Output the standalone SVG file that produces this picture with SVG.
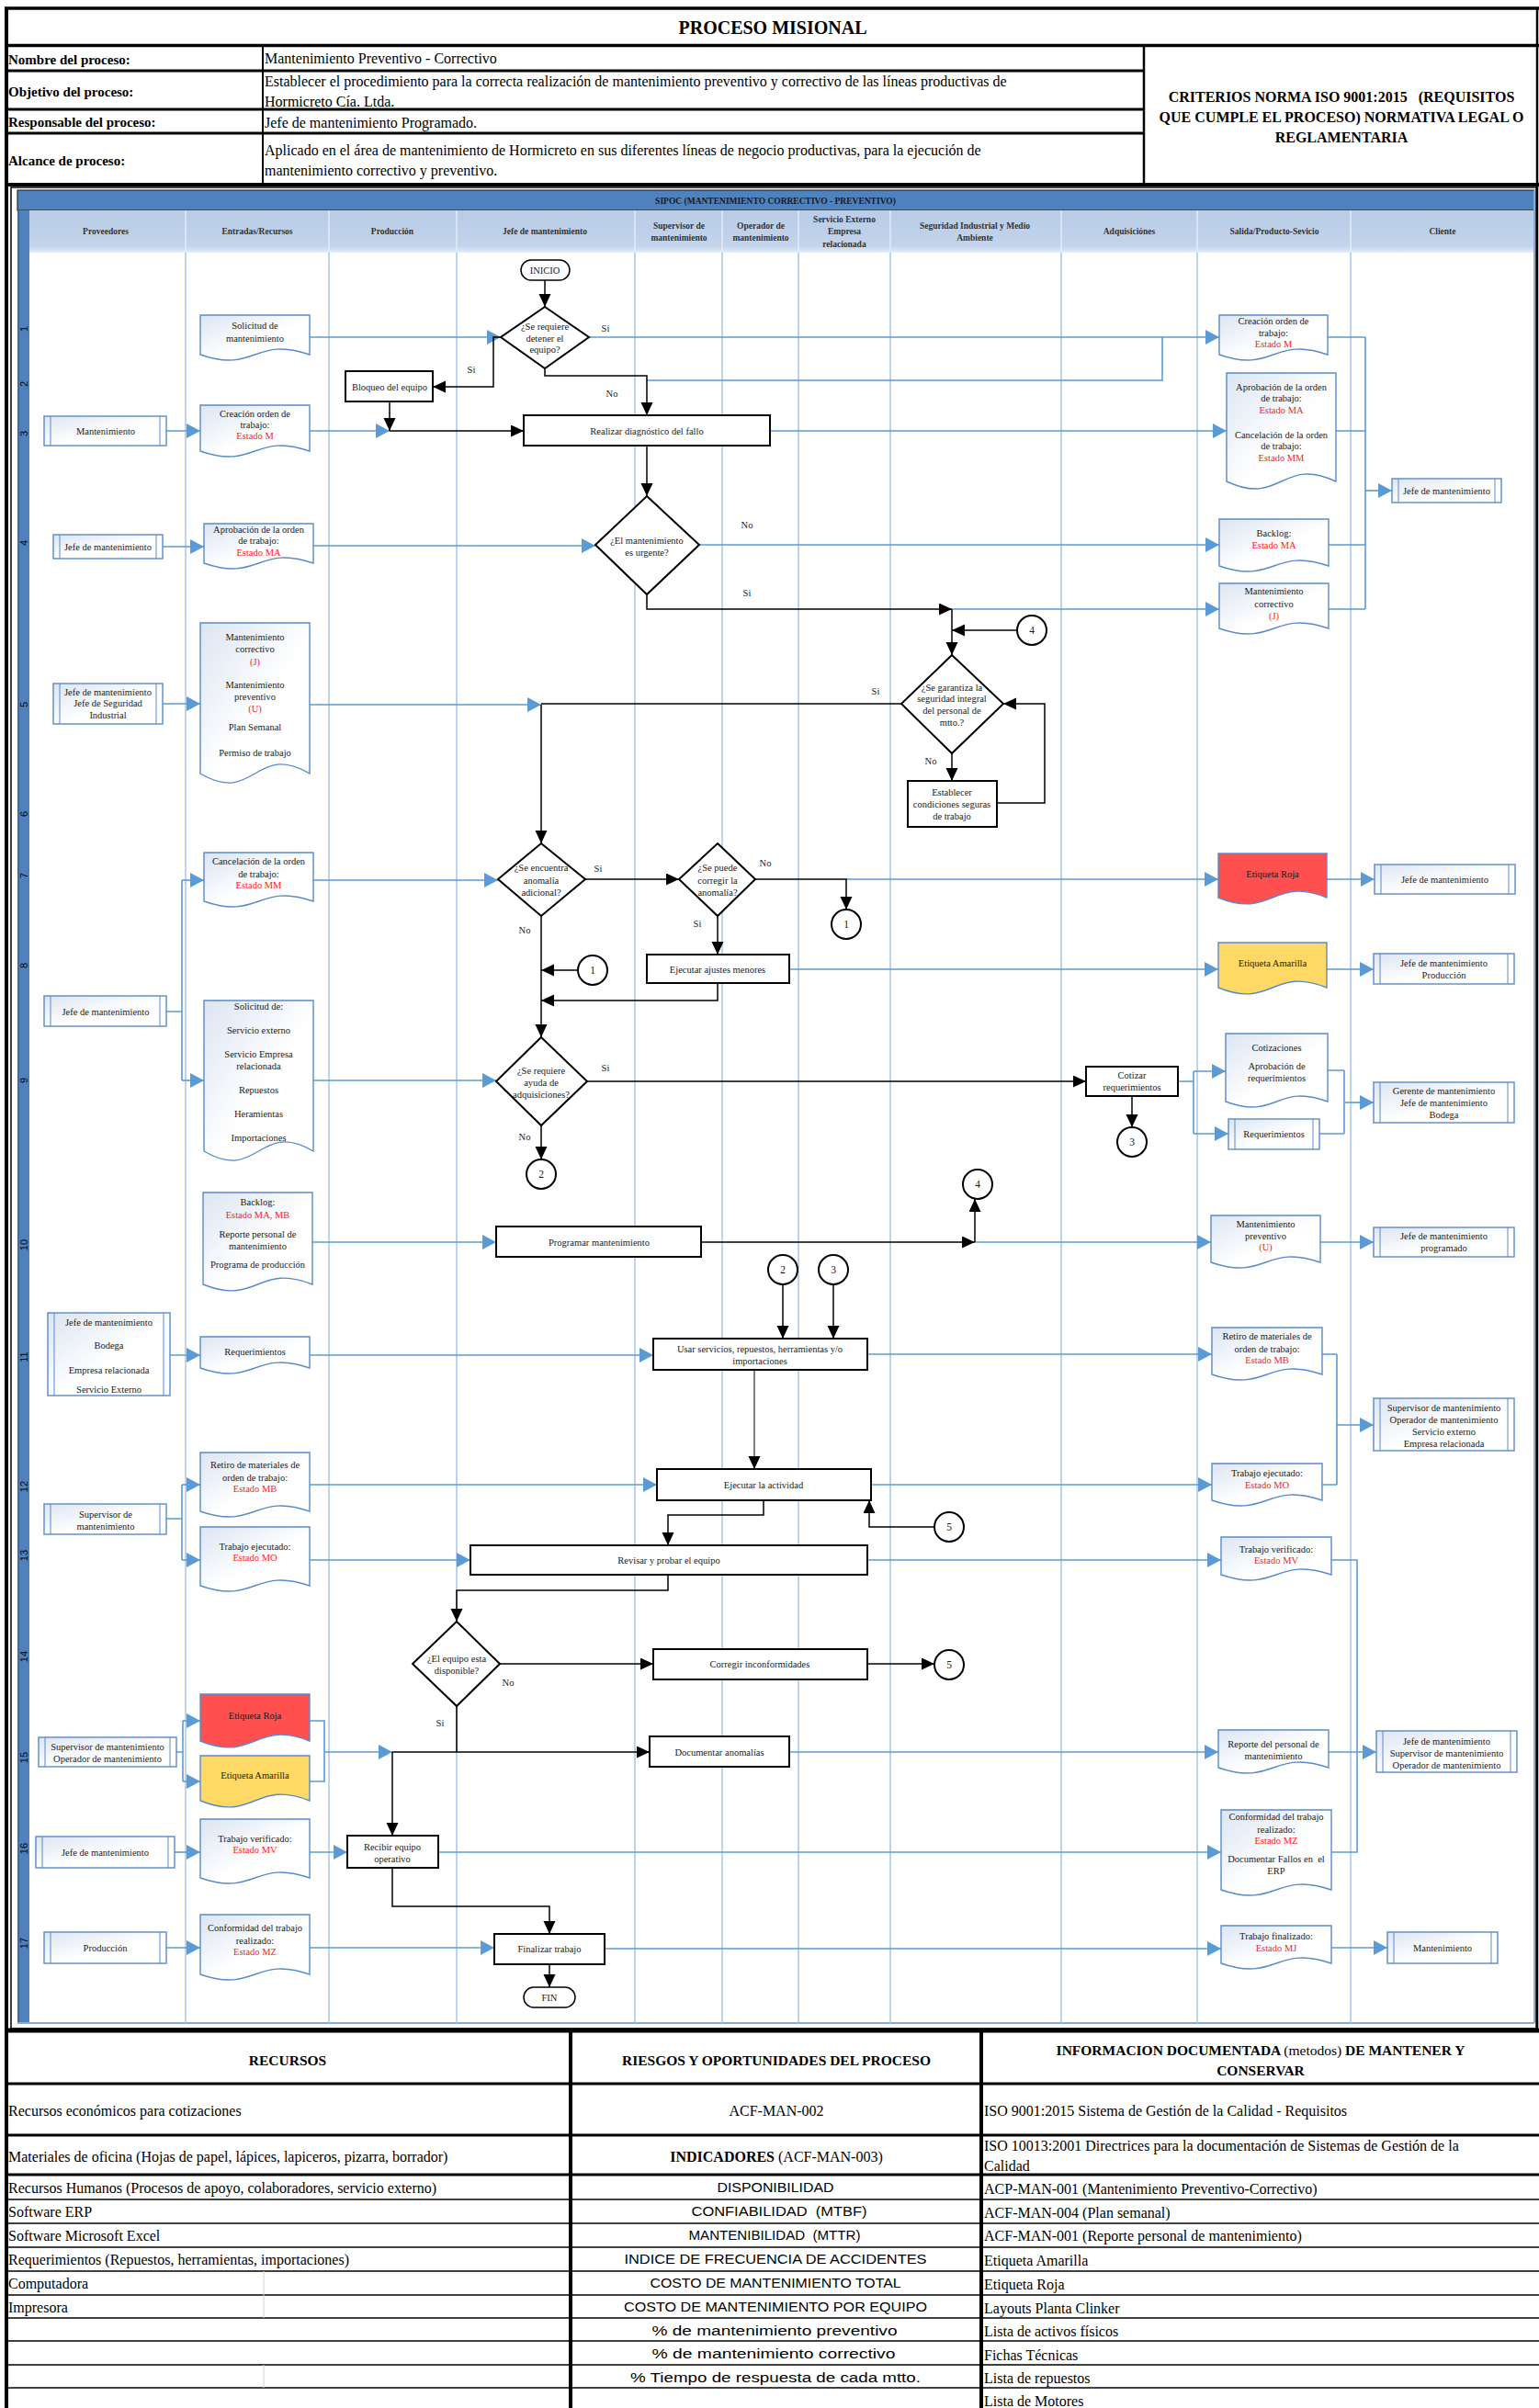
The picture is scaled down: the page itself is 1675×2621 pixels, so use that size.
<svg xmlns="http://www.w3.org/2000/svg" width="1675" height="2621" viewBox="0 0 1675 2621">
<defs>
<linearGradient id="g" x1="0" y1="0" x2="1" y2="1"><stop offset="0" stop-color="#DCE5F2"/><stop offset="0.55" stop-color="#FFFFFF"/></linearGradient>
<linearGradient id="hg" x1="0" y1="0" x2="0" y2="1"><stop offset="0" stop-color="#B8CCE6"/><stop offset="0.85" stop-color="#C3D4EC"/><stop offset="1" stop-color="#E6EDF7"/></linearGradient>
<marker id="ab" markerUnits="userSpaceOnUse" markerWidth="16" markerHeight="16" refX="15" refY="8" orient="auto"><path d="M0,0 L15,8 L0,16 z" fill="#5B9BD5"/></marker>
<marker id="ak" markerUnits="userSpaceOnUse" markerWidth="14" markerHeight="14" refX="14" refY="6.5" orient="auto"><path d="M0,0 L14,6.5 L0,13 z" fill="#000"/></marker>
<style>
.serif{font-family:"Liberation Serif","Times New Roman",serif}
.hl{font-family:"Liberation Serif",serif;font-size:15px;font-weight:bold;fill:#000}
.hv{font-family:"Liberation Serif",serif;font-size:16px;fill:#000}
.hb{font-family:"Liberation Serif",serif;font-size:16px;font-weight:bold;fill:#000;text-anchor:middle}
.t{font-family:"Liberation Serif",serif;font-size:10.5px;fill:#1a1a1a;text-anchor:middle;dominant-baseline:central}
.ch{font-family:"Liberation Serif",serif;font-size:9.5px;font-weight:bold;fill:#333;text-anchor:middle;dominant-baseline:central}
.rn{font-family:"Liberation Sans",Arial,sans-serif;font-size:11px;fill:#0a0a0a;text-anchor:middle;dominant-baseline:central}
.r{fill:#FF1A1A}
.lane{stroke:#A9C5EA;stroke-width:1.5}
.laneh{stroke:#E3EBF6;stroke-width:1.5}
.doc{fill:url(#g);stroke:#5A8ACB;stroke-width:1.4}
.pp{fill:url(#g);stroke:#5A8ACB;stroke-width:1.4}
.ppl{stroke:#5A8ACB;stroke-width:1}
.box{fill:#fff;stroke:#000;stroke-width:2}
.cir{fill:#fff;stroke:#000;stroke-width:2}
.bl{fill:none;stroke:#5B9BD5;stroke-width:1.6}
.ba{fill:none;stroke:#5B9BD5;stroke-width:1.6;marker-end:url(#ab)}
.k{fill:none;stroke:#000;stroke-width:1.5}
.ka{fill:none;stroke:#000;stroke-width:1.5;marker-end:url(#ak)}
.tb{font-family:"Liberation Serif",serif;font-size:16px;fill:#000;dominant-baseline:central}
.tbh{font-family:"Liberation Serif",serif;font-size:15.5px;font-weight:bold;fill:#000;text-anchor:middle;dominant-baseline:central}
.ts{font-family:"Liberation Sans",Arial,sans-serif;font-size:14px;fill:#000;text-anchor:middle;dominant-baseline:central}
.thick{stroke:#000;stroke-width:3}
.thin{stroke:#000;stroke-width:1.5}
</style>
</defs>
<rect x="0" y="0" width="1675" height="2621" fill="#fff"/>

<!-- HEADER TABLE -->
<g id="header-table">
<line x1="5" y1="9" x2="1675" y2="9" stroke="#000" stroke-width="3.5"/>
<line x1="7" y1="9" x2="7" y2="2621" stroke="#000" stroke-width="4"/>
<line x1="1673" y1="9" x2="1673" y2="2208" stroke="#000" stroke-width="2.5"/>
<line x1="7" y1="49.5" x2="1675" y2="49.5" stroke="#000" stroke-width="3.5"/>
<line x1="7" y1="77" x2="1245" y2="77" class="thick"/>
<line x1="7" y1="119" x2="1245" y2="119" class="thick"/>
<line x1="7" y1="145" x2="1245" y2="145" class="thick"/>
<line x1="7" y1="201" x2="1675" y2="201" stroke="#000" stroke-width="4"/>
<line x1="286" y1="49" x2="286" y2="201" stroke="#000" stroke-width="2"/>
<line x1="1245" y1="49" x2="1245" y2="201" stroke="#000" stroke-width="2.5"/>
<text x="841" y="30" class="serif" font-size="20" font-weight="bold" text-anchor="middle" dominant-baseline="central">PROCESO MISIONAL</text>
<text x="9" y="65" class="hl" dominant-baseline="central">Nombre del proceso:</text>
<text x="9" y="100" class="hl" dominant-baseline="central">Objetivo del proceso:</text>
<text x="9" y="133" class="hl" dominant-baseline="central">Responsable del proceso:</text>
<text x="9" y="175" class="hl" dominant-baseline="central">Alcance de proceso:</text>
<text x="288" y="63" class="hv" dominant-baseline="central">Mantenimiento Preventivo - Correctivo</text>
<text class="hv" dominant-baseline="central"><tspan x="288" y="88">Establecer el procedimiento para la correcta realización de mantenimiento preventivo y correctivo de las líneas productivas de</tspan><tspan x="288" y="110">Hormicreto Cía. Ltda.</tspan></text>
<text x="288" y="133" class="hv" dominant-baseline="central">Jefe de mantenimiento Programado.</text>
<text class="hv" dominant-baseline="central"><tspan x="288" y="163">Aplicado en el área de mantenimiento de Hormicreto en sus diferentes líneas de negocio productivas, para la ejecución de</tspan><tspan x="288" y="185">mantenimiento correctivo y preventivo.</tspan></text>
<text class="hb" dominant-baseline="central" style="white-space:pre"><tspan x="1460" y="105">CRITERIOS NORMA ISO 9001:2015   (REQUISITOS</tspan><tspan x="1460" y="127">QUE CUMPLE EL PROCESO) NORMATIVA LEGAL O</tspan><tspan x="1460" y="149">REGLAMENTARIA</tspan></text>
</g>

<!-- SIPOC FRAME -->
<g id="sipoc-frame">
<rect x="12" y="204" width="1660" height="2004" fill="#fff" stroke="#000" stroke-width="1.5"/>
<rect x="19" y="207" width="1651" height="22" fill="#4F81BD" stroke="#2B2B2B" stroke-width="1.2"/>
<text x="844" y="218.5" class="serif" font-size="9.5" font-weight="bold" fill="#1a1a1a" text-anchor="middle" dominant-baseline="central">SIPOC (MANTENIMIENTO CORRECTIVO - PREVENTIVO)</text>
<rect x="32" y="229" width="1638" height="46" fill="url(#hg)"/>
<rect x="19" y="229" width="13" height="1973" fill="#4F81BD"/>
<line x1="20" y1="229" x2="20" y2="2202" stroke="#3C6CA6" stroke-width="2"/>
<line x1="19" y1="2202" x2="1670" y2="2202" stroke="#8FA9C8" stroke-width="2"/>
<line x1="1670" y1="207" x2="1670" y2="2202" stroke="#8FA9C8" stroke-width="2"/>
<g id="lanes">
<line x1="202" y1="229" x2="202" y2="275" class="laneh"/>
<line x1="358" y1="229" x2="358" y2="275" class="laneh"/>
<line x1="497" y1="229" x2="497" y2="275" class="laneh"/>
<line x1="691" y1="229" x2="691" y2="275" class="laneh"/>
<line x1="786" y1="229" x2="786" y2="275" class="laneh"/>
<line x1="869" y1="229" x2="869" y2="275" class="laneh"/>
<line x1="969" y1="229" x2="969" y2="275" class="laneh"/>
<line x1="1155" y1="229" x2="1155" y2="275" class="laneh"/>
<line x1="1303" y1="229" x2="1303" y2="275" class="laneh"/>
<line x1="1470" y1="229" x2="1470" y2="275" class="laneh"/>
<line x1="202" y1="275" x2="202" y2="2202" class="lane"/>
<line x1="358" y1="275" x2="358" y2="2202" class="lane"/>
<line x1="497" y1="275" x2="497" y2="2202" class="lane"/>
<line x1="691" y1="275" x2="691" y2="2202" class="lane"/>
<line x1="786" y1="275" x2="786" y2="2202" class="lane"/>
<line x1="869" y1="275" x2="869" y2="2202" class="lane"/>
<line x1="969" y1="275" x2="969" y2="2202" class="lane"/>
<line x1="1155" y1="275" x2="1155" y2="2202" class="lane"/>
<line x1="1303" y1="275" x2="1303" y2="2202" class="lane"/>
<line x1="1470" y1="275" x2="1470" y2="2202" class="lane"/>
</g>
<g id="column-headers">
<text x="115" y="252" class="ch">Proveedores</text>
<text x="280" y="252" class="ch">Entradas/Recursos</text>
<text x="427" y="252" class="ch">Producción</text>
<text x="593" y="252" class="ch">Jefe de mantenimiento</text>
<text class="ch"><tspan x="739" y="246">Supervisor de</tspan><tspan x="739" y="259">mantenimiento</tspan></text>
<text class="ch"><tspan x="828" y="246">Operador de</tspan><tspan x="828" y="259">mantenimiento</tspan></text>
<text class="ch"><tspan x="919" y="239">Servicio Externo</tspan><tspan x="919" y="252">Empresa</tspan><tspan x="919" y="266">relacionada</tspan></text>
<text class="ch"><tspan x="1061" y="246">Seguridad Industrial y Medio</tspan><tspan x="1061" y="259">Ambiente</tspan></text>
<text x="1229" y="252" class="ch">Adquisiciónes</text>
<text x="1387" y="252" class="ch">Salida/Producto-Sevicio</text>
<text x="1570" y="252" class="ch">Cliente</text>
</g>
<g id="row-numbers">
<text class="rn" transform="rotate(-90 26 358)" x="26" y="358">1</text>
<text class="rn" transform="rotate(-90 26 418)" x="26" y="418">2</text>
<text class="rn" transform="rotate(-90 26 472)" x="26" y="472">3</text>
<text class="rn" transform="rotate(-90 26 591)" x="26" y="591">4</text>
<text class="rn" transform="rotate(-90 26 767)" x="26" y="767">5</text>
<text class="rn" transform="rotate(-90 26 886)" x="26" y="886">6</text>
<text class="rn" transform="rotate(-90 26 953)" x="26" y="953">7</text>
<text class="rn" transform="rotate(-90 26 1051)" x="26" y="1051">8</text>
<text class="rn" transform="rotate(-90 26 1176)" x="26" y="1176">9</text>
<text class="rn" transform="rotate(-90 26 1355)" x="26" y="1355">10</text>
<text class="rn" transform="rotate(-90 26 1477)" x="26" y="1477">11</text>
<text class="rn" transform="rotate(-90 26 1618)" x="26" y="1618">12</text>
<text class="rn" transform="rotate(-90 26 1693)" x="26" y="1693">13</text>
<text class="rn" transform="rotate(-90 26 1803)" x="26" y="1803">14</text>
<text class="rn" transform="rotate(-90 26 1913)" x="26" y="1913">15</text>
<text class="rn" transform="rotate(-90 26 2012)" x="26" y="2012">16</text>
<text class="rn" transform="rotate(-90 26 2115)" x="26" y="2115">17</text>
</g>
</g>

<!-- CONNECTORS -->
<g id="connectors">
<path class="ba" d="M337,367 H545"/>
<path class="ba" d="M641,367 H1327"/>
<path class="bl" d="M704,414 H1265 V367"/>
<path class="ba" d="M181,469 H218"/>
<path class="ba" d="M337,469 H424"/>
<path class="ba" d="M838,469 H1335"/>
<path class="ba" d="M177,595 H222"/>
<path class="ba" d="M341,594 H648"/>
<path class="ba" d="M761,593 H1327"/>
<path class="ba" d="M1036,663 H1327"/>
<path class="bl" d="M1445,367 H1486 M1454,469 H1486 M1446,593 H1486 M1446,663 H1486 M1486,367 V663"/>
<path class="ba" d="M1486,534 H1515"/>
<path class="ba" d="M177,766 H218"/>
<path class="ba" d="M337,767 H589"/>
<path class="bl" d="M181,1101 H198 M198,958 V1176"/>
<path class="ba" d="M198,958 H222"/>
<path class="ba" d="M198,1176 H222"/>
<path class="ba" d="M341,958 H542"/>
<path class="ba" d="M341,1176 H540"/>
<path class="ba" d="M921,957 H1326"/>
<path class="ba" d="M1444,957 H1496"/>
<path class="ba" d="M859,1055 H1326"/>
<path class="ba" d="M1444,1055 H1495"/>
<path class="bl" d="M1282,1177 H1299 M1299,1166 V1234"/>
<path class="ba" d="M1299,1166 H1334"/>
<path class="ba" d="M1299,1234 H1337"/>
<path class="bl" d="M1445,1165 H1463 M1436,1234 H1463 M1463,1165 V1234"/>
<path class="ba" d="M1463,1200 H1495"/>
<path class="ba" d="M340,1352 H540"/>
<path class="ba" d="M1061,1352 H1318"/>
<path class="ba" d="M1437,1352 H1495"/>
<path class="ba" d="M185,1475 H218"/>
<path class="ba" d="M337,1475 H711"/>
<path class="ba" d="M944,1474 H1319"/>
<path class="bl" d="M181,1653 H198 M198,1616 V1698"/>
<path class="ba" d="M198,1616 H218"/>
<path class="ba" d="M198,1698 H218"/>
<path class="ba" d="M337,1616 H715"/>
<path class="ba" d="M337,1698 H512"/>
<path class="ba" d="M948,1616 H1319"/>
<path class="bl" d="M1439,1474 H1455 M1439,1616 H1455 M1455,1474 V1616"/>
<path class="ba" d="M1455,1551 H1495"/>
<path class="ba" d="M944,1698 H1329"/>
<path class="bl" d="M1449,1698 H1477 V2016 H1449"/>
<path class="bl" d="M192,1907 H199 M199,1873 V1939"/>
<path class="ba" d="M199,1873 H218"/>
<path class="ba" d="M199,1939 H218"/>
<path class="bl" d="M337,1873 H353 V1939 H337"/>
<path class="ba" d="M353,1907 H427"/>
<path class="ba" d="M859,1907 H1326"/>
<path class="ba" d="M1446,1907 H1498"/>
<path class="ba" d="M190,2016 H218"/>
<path class="ba" d="M337,2016 H378"/>
<path class="ba" d="M477,2016 H1329"/>
<path class="ba" d="M181,2120 H218"/>
<path class="ba" d="M337,2120 H538"/>
<path class="ba" d="M658,2121 H1329"/>
<path class="ba" d="M1449,2120 H1510"/>
<path class="ka" d="M593,305 V334"/>
<path class="ka" d="M545,367 H537 V421 H471"/>
<path class="ka" d="M424,437 V469"/>
<path class="ka" d="M424,469 H570"/>
<path class="ka" d="M593,401 V409 H704 V452"/>
<path class="ka" d="M704,485 V540"/>
<path class="ka" d="M704,647 V663 H1036"/>
<path class="ka" d="M1036,663 V713"/>
<path class="ka" d="M1107,686 H1036"/>
<path class="ka" d="M1036,820 V850"/>
<path class="ka" d="M1085,874 H1137 V766 H1092"/>
<path class="k" d="M981,766 H589"/>
<path class="ka" d="M589,767 V918"/>
<path class="ka" d="M637,957 H739"/>
<path class="ka" d="M822,957 H921 V990"/>
<path class="ka" d="M781,997 V1039"/>
<path class="ka" d="M629,1056 H589"/>
<path class="ka" d="M781,1070 V1089 H589"/>
<path class="ka" d="M589,997 V1129"/>
<path class="ka" d="M639,1177 H1182"/>
<path class="ka" d="M589,1225 V1262"/>
<path class="ka" d="M1232,1193 V1227"/>
<path class="ka" d="M763,1352 H1061"/>
<path class="ka" d="M1061,1352 V1305"/>
<path class="ka" d="M852,1398 V1457"/>
<path class="ka" d="M907,1398 V1457"/>
<path class="ka" d="M821,1491 V1599" style="stroke-width:1"/>
<path class="ka" d="M831,1633 V1649 H727 V1682"/>
<path class="ka" d="M1017,1662 H946 V1633"/>
<path class="ka" d="M727,1714 V1731 H497 V1765"/>
<path class="ka" d="M544,1811 H711"/>
<path class="ka" d="M944,1811 H1017"/>
<path class="k" d="M497,1857 V1907"/>
<path class="ka" d="M427,1907 H707"/>
<path class="ka" d="M427,1907 V1998"/>
<path class="ka" d="M427,2033 V2075 H598 V2105"/>
<path class="ka" d="M598,2138 V2163"/>
</g>

<!-- BRANCH LABELS -->
<g id="labels" class="serif" font-size="10.5" fill="#1a1a1a" text-anchor="middle" dominant-baseline="central">
<text x="659" y="357">Si</text>
<text x="513" y="402">Si</text>
<text x="666" y="428">No</text>
<text x="813" y="571">No</text>
<text x="813" y="645">Si</text>
<text x="953" y="752">Si</text>
<text x="1013" y="828">No</text>
<text x="651" y="945">Si</text>
<text x="833" y="939">No</text>
<text x="759" y="1005">Si</text>
<text x="571" y="1012">No</text>
<text x="659" y="1162">Si</text>
<text x="571" y="1237">No</text>
<text x="553" y="1831">No</text>
<text x="479" y="1875">Si</text>
</g>

<!-- TERMINALS -->
<g id="n-inicio"><rect x="567" y="283" width="53" height="22" rx="11" class="box" style="stroke-width:1.5"/><text x="593" y="294" class="t">INICIO</text></g>
<g id="n-fin"><rect x="570" y="2163" width="56" height="22" rx="11" class="box" style="stroke-width:1.5"/><text x="598" y="2174" class="t">FIN</text></g>

<!-- DECISIONS -->
<g id="n-d1"><polygon class="box" points="593,334 641,367 593,401 545,367"/><text class="t"><tspan x="593" y="355">¿Se requiere</tspan><tspan x="593" y="368">detener el</tspan><tspan x="593" y="380">equipo?</tspan></text></g>
<g id="n-d2"><polygon class="box" points="704,540 761,593 704,647 648,593"/><text class="t"><tspan x="704" y="588">¿El mantenimiento</tspan><tspan x="704" y="601">es urgente?</tspan></text></g>
<g id="n-d3"><polygon class="box" points="1036,713 1092,766 1036,820 981,766"/><text class="t"><tspan x="1036" y="748">¿Se garantiza la</tspan><tspan x="1036" y="760">seguridad integral</tspan><tspan x="1036" y="773">del personal de</tspan><tspan x="1036" y="786">mtto.?</tspan></text></g>
<g id="n-d4"><polygon class="box" points="589,918 637,957 589,997 542,957"/><text class="t"><tspan x="589" y="944">¿Se encuentra</tspan><tspan x="589" y="958">anomalía</tspan><tspan x="589" y="971">adicional?</tspan></text></g>
<g id="n-d5"><polygon class="box" points="781,918 822,957 781,997 739,957"/><text class="t"><tspan x="781" y="944">¿Se puede</tspan><tspan x="781" y="958">corregir la</tspan><tspan x="781" y="971">anomalía?</tspan></text></g>
<g id="n-d6"><polygon class="box" points="589,1129 639,1177 589,1225 540,1177"/><text class="t"><tspan x="589" y="1165">¿Se requiere</tspan><tspan x="589" y="1178">ayuda de</tspan><tspan x="589" y="1191">adquisiciones?</tspan></text></g>
<g id="n-d7"><polygon class="box" points="497,1765 544,1811 497,1857 449,1811"/><text class="t"><tspan x="497" y="1805">¿El equipo esta</tspan><tspan x="497" y="1818">disponible?</tspan></text></g>

<!-- PROCESS BOXES -->
<g id="n-bloqueo"><rect class="box" x="376" y="404" width="95" height="33"/><text x="424" y="421" class="t">Bloqueo del equipo</text></g>
<g id="n-diagnostico"><rect class="box" x="570" y="452" width="268" height="33"/><text x="704" y="469" class="t">Realizar diagnóstico del fallo</text></g>
<g id="n-establecer"><rect class="box" x="988" y="850" width="97" height="50"/><text class="t"><tspan x="1036" y="862">Establecer</tspan><tspan x="1036" y="875">condiciones seguras</tspan><tspan x="1036" y="888">de trabajo</tspan></text></g>
<g id="n-ajustes"><rect class="box" x="704" y="1039" width="155" height="31"/><text x="781" y="1055" class="t">Ejecutar ajustes menores</text></g>
<g id="n-cotizar"><rect class="box" x="1182" y="1161" width="100" height="32"/><text class="t"><tspan x="1232" y="1170">Cotizar</tspan><tspan x="1232" y="1183">requerimientos</tspan></text></g>
<g id="n-programar"><rect class="box" x="540" y="1335" width="223" height="33"/><text x="652" y="1352" class="t">Programar mantenimiento</text></g>
<g id="n-usar"><rect class="box" x="711" y="1457" width="233" height="34"/><text class="t"><tspan x="827" y="1468">Usar servicios, repuestos, herramientas y/o</tspan><tspan x="827" y="1481">importaciones</tspan></text></g>
<g id="n-ejecutar"><rect class="box" x="715" y="1599" width="233" height="34"/><text x="831" y="1616" class="t">Ejecutar la actividad</text></g>
<g id="n-revisar"><rect class="box" x="512" y="1682" width="432" height="32"/><text x="728" y="1698" class="t">Revisar y probar el equipo</text></g>
<g id="n-corregir"><rect class="box" x="711" y="1795" width="233" height="33"/><text x="827" y="1811" class="t">Corregir inconformidades</text></g>
<g id="n-documentar"><rect class="box" x="707" y="1890" width="152" height="33"/><text x="783" y="1907" class="t">Documentar anomalías</text></g>
<g id="n-recibir"><rect class="box" x="378" y="1998" width="99" height="35"/><text class="t"><tspan x="427" y="2010">Recibir equipo</tspan><tspan x="427" y="2023">operativo</tspan></text></g>
<g id="n-finalizar"><rect class="box" x="538" y="2105" width="120" height="33"/><text x="598" y="2121" class="t">Finalizar trabajo</text></g>

<!-- CONNECTOR CIRCLES -->
<g id="n-c4a"><circle class="cir" cx="1123" cy="686" r="16"/><text x="1123" y="686" class="t" style="font-size:11.5px">4</text></g>
<g id="n-c1a"><circle class="cir" cx="921" cy="1006" r="16"/><text x="921" y="1006" class="t" style="font-size:11.5px">1</text></g>
<g id="n-c1b"><circle class="cir" cx="645" cy="1056" r="16"/><text x="645" y="1056" class="t" style="font-size:11.5px">1</text></g>
<g id="n-c2a"><circle class="cir" cx="589" cy="1278" r="16"/><text x="589" y="1278" class="t" style="font-size:11.5px">2</text></g>
<g id="n-c3a"><circle class="cir" cx="1232" cy="1243" r="16"/><text x="1232" y="1243" class="t" style="font-size:11.5px">3</text></g>
<g id="n-c4b"><circle class="cir" cx="1064" cy="1289" r="16"/><text x="1064" y="1289" class="t" style="font-size:11.5px">4</text></g>
<g id="n-c2b"><circle class="cir" cx="852" cy="1382" r="16"/><text x="852" y="1382" class="t" style="font-size:11.5px">2</text></g>
<g id="n-c3b"><circle class="cir" cx="907" cy="1382" r="16"/><text x="907" y="1382" class="t" style="font-size:11.5px">3</text></g>
<g id="n-c5a"><circle class="cir" cx="1033" cy="1662" r="16"/><text x="1033" y="1662" class="t" style="font-size:11.5px">5</text></g>
<g id="n-c5b"><circle class="cir" cx="1033" cy="1812" r="16"/><text x="1033" y="1812" class="t" style="font-size:11.5px">5</text></g>

<!-- INPUT DOCUMENTS -->
<g id="n-in-solicitud"><path class="doc" d="M218,343H337V386C277.5,365 277.5,407 218,386Z"/><text class="t"><tspan x="277.5" y="354">Solicitud de</tspan><tspan x="277.5" y="368">mantenimiento</tspan></text></g>
<g id="n-in-creacion"><path class="doc" d="M218,441H337V491C277.5,470 277.5,512 218,491Z"/><text class="t"><tspan x="277.5" y="450">Creación orden de</tspan><tspan x="277.5" y="462">trabajo:</tspan><tspan x="277.5" y="474" class="r">Estado M</tspan></text></g>
<g id="n-in-aprobacion"><path class="doc" d="M222,570H341V613C281.5,592 281.5,634 222,613Z"/><text class="t"><tspan x="281.5" y="576">Aprobación de la orden</tspan><tspan x="281.5" y="588">de trabajo:</tspan><tspan x="281.5" y="601" class="r">Estado MA</tspan></text></g>
<g id="n-in-mant"><path class="doc" d="M218,678H337V842C277.5,807 277.5,877 218,842Z"/><text class="t"><tspan x="277.5" y="693">Mantenimiento</tspan><tspan x="277.5" y="706">correctivo</tspan><tspan x="277.5" y="720" class="r">(J)</tspan><tspan x="277.5" y="745">Mantenimiento</tspan><tspan x="277.5" y="758">preventivo</tspan><tspan x="277.5" y="771" class="r">(U)</tspan><tspan x="277.5" y="791">Plan Semanal</tspan><tspan x="277.5" y="819">Permiso de trabajo</tspan></text></g>
<g id="n-in-cancelacion"><path class="doc" d="M222,928H341V981C281.5,960 281.5,1002 222,981Z"/><text class="t"><tspan x="281.5" y="937">Cancelación de la orden</tspan><tspan x="281.5" y="951">de trabajo:</tspan><tspan x="281.5" y="963" class="r">Estado MM</tspan></text></g>
<g id="n-in-solicitud2"><path class="doc" d="M222,1089H341V1253C281.5,1218 281.5,1288 222,1253Z"/><text class="t"><tspan x="281.5" y="1095">Solicitud de:</tspan><tspan x="281.5" y="1121">Servicio externo</tspan><tspan x="281.5" y="1147">Servicio Empresa</tspan><tspan x="281.5" y="1160">relacionada</tspan><tspan x="281.5" y="1186">Repuestos</tspan><tspan x="281.5" y="1212">Heramientas</tspan><tspan x="281.5" y="1238">Importaciones</tspan></text></g>
<g id="n-in-backlog"><path class="doc" d="M221,1298H340V1398C280.5,1374 280.5,1422 221,1398Z"/><text class="t"><tspan x="280.5" y="1308">Backlog:</tspan><tspan x="280.5" y="1322" class="r">Estado MA, MB</tspan><tspan x="280.5" y="1343">Reporte personal de</tspan><tspan x="280.5" y="1356">mantenimiento</tspan><tspan x="280.5" y="1376">Programa de producción</tspan></text></g>
<g id="n-in-requerimientos"><path class="doc" d="M218,1455H337V1489C277.5,1468 277.5,1510 218,1489Z"/><text x="277.5" y="1471" class="t">Requerimientos</text></g>
<g id="n-in-retiro"><path class="doc" d="M218,1581H337V1645C277.5,1624 277.5,1666 218,1645Z"/><text class="t"><tspan x="277.5" y="1594">Retiro de materiales de</tspan><tspan x="277.5" y="1608">orden de trabajo:</tspan><tspan x="277.5" y="1620" class="r">Estado MB</tspan></text></g>
<g id="n-in-ejecutado"><path class="doc" d="M218,1662H337V1726C277.5,1705 277.5,1747 218,1726Z"/><text class="t"><tspan x="277.5" y="1683">Trabajo ejecutado:</tspan><tspan x="277.5" y="1695" class="r">Estado MO</tspan></text></g>
<g id="n-in-roja"><path class="doc" style="fill:#FF4F4F" d="M218,1844H337V1895C277.5,1871 277.5,1919 218,1895Z"/><text x="277.5" y="1867" class="t">Etiqueta Roja</text></g>
<g id="n-in-amarilla"><path class="doc" style="fill:#FFD966" d="M218,1911H337V1960C277.5,1936 277.5,1984 218,1960Z"/><text x="277.5" y="1932" class="t">Etiqueta Amarilla</text></g>
<g id="n-in-verificado"><path class="doc" d="M218,1980H337V2044C277.5,2023 277.5,2065 218,2044Z"/><text class="t"><tspan x="277.5" y="2001">Trabajo verificado:</tspan><tspan x="277.5" y="2013" class="r">Estado MV</tspan></text></g>
<g id="n-in-conformidad"><path class="doc" d="M218,2084H337V2149C277.5,2128 277.5,2170 218,2149Z"/><text class="t"><tspan x="277.5" y="2098">Conformidad del trabajo</tspan><tspan x="277.5" y="2112">realizado:</tspan><tspan x="277.5" y="2124" class="r">Estado MZ</tspan></text></g>

<!-- OUTPUT DOCUMENTS -->
<g id="n-out-creacion"><path class="doc" d="M1327,343H1445V386C1386,365 1386,407 1327,386Z"/><text class="t"><tspan x="1386" y="349">Creación orden de</tspan><tspan x="1386" y="362">trabajo:</tspan><tspan x="1386" y="374" class="r">Estado M</tspan></text></g>
<g id="n-out-aprobacion"><path class="doc" d="M1335,406H1454V524C1394.5,496 1394.5,552 1335,524Z"/><text class="t"><tspan x="1394.5" y="421">Aprobación de la orden</tspan><tspan x="1394.5" y="433">de trabajo:</tspan><tspan x="1394.5" y="446" class="r">Estado MA</tspan><tspan x="1394.5" y="473">Cancelación de la orden</tspan><tspan x="1394.5" y="485">de trabajo:</tspan><tspan x="1394.5" y="498" class="r">Estado MM</tspan></text></g>
<g id="n-out-backlog"><path class="doc" d="M1327,565H1446V616C1386.5,595 1386.5,637 1327,616Z"/><text class="t"><tspan x="1386.5" y="580">Backlog:</tspan><tspan x="1386.5" y="593" class="r">Estado MA</tspan></text></g>
<g id="n-out-correctivo"><path class="doc" d="M1327,635H1446V684C1386.5,663 1386.5,705 1327,684Z"/><text class="t"><tspan x="1386.5" y="643">Mantenimiento</tspan><tspan x="1386.5" y="657">correctivo</tspan><tspan x="1386.5" y="670" class="r">(J)</tspan></text></g>
<g id="n-out-roja"><path class="doc" style="fill:#FF4F4F" d="M1326,929H1444V977C1385,953 1385,1001 1326,977Z"/><text x="1385" y="951" class="t">Etiqueta Roja</text></g>
<g id="n-out-amarilla"><path class="doc" style="fill:#FFD966" d="M1326,1026H1444V1075C1385,1051 1385,1099 1326,1075Z"/><text x="1385" y="1048" class="t">Etiqueta Amarilla</text></g>
<g id="n-out-cotizaciones"><path class="doc" d="M1334,1125H1445V1199C1389.5,1178 1389.5,1220 1334,1199Z"/><text class="t"><tspan x="1389.5" y="1140">Cotizaciones</tspan><tspan x="1389.5" y="1160">Aprobación de</tspan><tspan x="1389.5" y="1173">requerimientos</tspan></text></g>
<g id="n-out-preventivo"><path class="doc" d="M1318,1323H1437V1374C1377.5,1353 1377.5,1395 1318,1374Z"/><text class="t"><tspan x="1377.5" y="1332">Mantenimiento</tspan><tspan x="1377.5" y="1345">preventivo</tspan><tspan x="1377.5" y="1357" class="r">(U)</tspan></text></g>
<g id="n-out-retiro"><path class="doc" d="M1319,1445H1439V1496C1379,1475 1379,1517 1319,1496Z"/><text class="t"><tspan x="1379" y="1454">Retiro de materiales de</tspan><tspan x="1379" y="1468">orden de trabajo:</tspan><tspan x="1379" y="1480" class="r">Estado MB</tspan></text></g>
<g id="n-out-ejecutado"><path class="doc" d="M1319,1593H1439V1633C1379,1612 1379,1654 1319,1633Z"/><text class="t"><tspan x="1379" y="1603">Trabajo ejecutado:</tspan><tspan x="1379" y="1616" class="r">Estado MO</tspan></text></g>
<g id="n-out-verificado"><path class="doc" d="M1329,1673H1449V1714C1389,1693 1389,1735 1329,1714Z"/><text class="t"><tspan x="1389" y="1686">Trabajo verificado:</tspan><tspan x="1389" y="1698" class="r">Estado MV</tspan></text></g>
<g id="n-out-reporte"><path class="doc" d="M1326,1883H1446V1924C1386,1903 1386,1945 1326,1924Z"/><text class="t"><tspan x="1386" y="1898">Reporte del personal de</tspan><tspan x="1386" y="1911">mantenimiento</tspan></text></g>
<g id="n-out-conformidad"><path class="doc" d="M1329,1970H1449V2057C1389,2036 1389,2078 1329,2057Z"/><text class="t" style="white-space:pre"><tspan x="1389" y="1977">Conformidad del trabajo</tspan><tspan x="1389" y="1991">realizado:</tspan><tspan x="1389" y="2003" class="r">Estado MZ</tspan><tspan x="1389" y="2023">Documentar Fallos en  el</tspan><tspan x="1389" y="2036">ERP</tspan></text></g>
<g id="n-out-finalizado"><path class="doc" d="M1329,2096H1449V2137C1389,2116 1389,2158 1329,2137Z"/><text class="t"><tspan x="1389" y="2107">Trabajo finalizado:</tspan><tspan x="1389" y="2120" class="r">Estado MJ</tspan></text></g>

<!-- PROVIDERS -->
<g id="n-p-mantenimiento"><rect class="pp" x="48" y="453" width="133" height="32"/><path class="ppl" d="M55,453V485M174,453V485"/><text x="115" y="469" class="t">Mantenimiento</text></g>
<g id="n-p-jefe1"><rect class="pp" x="58" y="582" width="119" height="26"/><path class="ppl" d="M65,582V608M170,582V608"/><text x="117.5" y="595" class="t">Jefe de mantenimiento</text></g>
<g id="n-p-jefe-seg"><rect class="pp" x="58" y="744" width="119" height="44"/><path class="ppl" d="M65,744V788M170,744V788"/><text class="t"><tspan x="117.5" y="753">Jefe de mantenimiento</tspan><tspan x="117.5" y="765">Jefe de Seguridad</tspan><tspan x="117.5" y="778">Industrial</tspan></text></g>
<g id="n-p-jefe2"><rect class="pp" x="48" y="1084" width="133" height="33"/><path class="ppl" d="M55,1084V1117M174,1084V1117"/><text x="115" y="1101" class="t">Jefe de mantenimiento</text></g>
<g id="n-p-bodega"><rect class="pp" x="52" y="1429" width="133" height="90"/><path class="ppl" d="M59,1429V1519M178,1429V1519"/><text class="t"><tspan x="118.5" y="1439">Jefe de mantenimiento</tspan><tspan x="118.5" y="1464">Bodega</tspan><tspan x="118.5" y="1491">Empresa relacionada</tspan><tspan x="118.5" y="1512">Servicio Externo</tspan></text></g>
<g id="n-p-supervisor"><rect class="pp" x="48" y="1637" width="133" height="33"/><path class="ppl" d="M55,1637V1670M174,1637V1670"/><text class="t"><tspan x="115" y="1648">Supervisor de</tspan><tspan x="115" y="1661">mantenimiento</tspan></text></g>
<g id="n-p-sup-op"><rect class="pp" x="42" y="1891" width="150" height="32"/><path class="ppl" d="M49,1891V1923M185,1891V1923"/><text class="t"><tspan x="117" y="1901">Supervisor de mantenimiento</tspan><tspan x="117" y="1914">Operador de mantenimiento</tspan></text></g>
<g id="n-p-jefe3"><rect class="pp" x="39" y="1999" width="151" height="34"/><path class="ppl" d="M46,1999V2033M183,1999V2033"/><text x="114.5" y="2016" class="t">Jefe de mantenimiento</text></g>
<g id="n-p-produccion"><rect class="pp" x="48" y="2103" width="133" height="34"/><path class="ppl" d="M55,2103V2137M174,2103V2137"/><text x="114.5" y="2120" class="t">Producción</text></g>

<!-- CLIENTS -->
<g id="n-c-jefe1"><rect class="pp" x="1515" y="521" width="119" height="26"/><path class="ppl" d="M1522,521V547M1627,521V547"/><text x="1574.5" y="534" class="t">Jefe de mantenimiento</text></g>
<g id="n-c-jefe2"><rect class="pp" x="1496" y="941" width="153" height="32"/><path class="ppl" d="M1503,941V973M1642,941V973"/><text x="1572.5" y="957" class="t">Jefe de mantenimiento</text></g>
<g id="n-c-jefe-prod"><rect class="pp" x="1495" y="1038" width="153" height="33"/><path class="ppl" d="M1502,1038V1071M1641,1038V1071"/><text class="t"><tspan x="1571.5" y="1048">Jefe de mantenimiento</tspan><tspan x="1571.5" y="1061">Producción</tspan></text></g>
<g id="n-c-gerente"><rect class="pp" x="1495" y="1178" width="153" height="44"/><path class="ppl" d="M1502,1178V1222M1641,1178V1222"/><text class="t"><tspan x="1571.5" y="1187">Gerente de mantenimiento</tspan><tspan x="1571.5" y="1200">Jefe de mantenimiento</tspan><tspan x="1571.5" y="1213">Bodega</tspan></text></g>
<g id="n-out-requerimientos"><rect class="pp" x="1337" y="1218" width="99" height="33"/><path class="ppl" d="M1344,1218V1251M1429,1218V1251"/><text x="1386.5" y="1234" class="t">Requerimientos</text></g>
<g id="n-c-programado"><rect class="pp" x="1495" y="1336" width="153" height="32"/><path class="ppl" d="M1502,1336V1368M1641,1336V1368"/><text class="t"><tspan x="1571.5" y="1345">Jefe de mantenimiento</tspan><tspan x="1571.5" y="1358">programado</tspan></text></g>
<g id="n-c-supervisor"><rect class="pp" x="1495" y="1522" width="153" height="57"/><path class="ppl" d="M1502,1522V1579M1641,1522V1579"/><text class="t"><tspan x="1571.5" y="1532">Supervisor de mantenimiento</tspan><tspan x="1571.5" y="1545">Operador de mantenimiento</tspan><tspan x="1571.5" y="1558">Servicio externo</tspan><tspan x="1571.5" y="1571">Empresa relacionada</tspan></text></g>
<g id="n-c-jefe-sup-op"><rect class="pp" x="1498" y="1884" width="153" height="45"/><path class="ppl" d="M1505,1884V1929M1644,1884V1929"/><text class="t"><tspan x="1574.5" y="1895">Jefe de mantenimiento</tspan><tspan x="1574.5" y="1908">Supervisor de mantenimiento</tspan><tspan x="1574.5" y="1921">Operador de mantenimiento</tspan></text></g>
<g id="n-c-mantenimiento"><rect class="pp" x="1510" y="2103" width="120" height="34"/><path class="ppl" d="M1517,2103V2137M1623,2103V2137"/><text x="1570" y="2120" class="t">Mantenimiento</text></g>

<!-- BOTTOM TABLE -->
<g id="bottom-table">
<line x1="5" y1="2210" x2="1675" y2="2210" stroke="#000" stroke-width="5"/>
<line x1="7" y1="2268" x2="1675" y2="2268" class="thick"/>
<line x1="7" y1="2324" x2="1675" y2="2324" class="thick"/>
<line x1="7" y1="2367" x2="1675" y2="2367" class="thick"/>
<line x1="7" y1="2394" x2="1675" y2="2394" class="thin"/>
<line x1="7" y1="2420" x2="1675" y2="2420" class="thin"/>
<line x1="7" y1="2446" x2="1675" y2="2446" class="thin"/>
<line x1="7" y1="2472" x2="1675" y2="2472" class="thin"/>
<line x1="7" y1="2498" x2="1675" y2="2498" class="thin"/>
<line x1="7" y1="2523" x2="1675" y2="2523" class="thin"/>
<line x1="7" y1="2548" x2="1675" y2="2548" class="thin"/>
<line x1="7" y1="2574" x2="1675" y2="2574" class="thin"/>
<line x1="7" y1="2599" x2="1675" y2="2599" class="thin"/>
<line x1="621" y1="2210" x2="621" y2="2621" stroke="#000" stroke-width="4"/>
<line x1="1068" y1="2210" x2="1068" y2="2621" stroke="#000" stroke-width="4"/>
<line x1="287" y1="2472" x2="287" y2="2523" stroke="#D0D0D0" stroke-width="1"/>
<line x1="287" y1="2574" x2="287" y2="2599" stroke="#D0D0D0" stroke-width="1"/>
<text x="313" y="2242" class="tbh">RECURSOS</text>
<text x="845" y="2242" class="tbh">RIESGOS Y OPORTUNIDADES DEL PROCESO</text>
<text class="tbh"><tspan x="1372" y="2231">INFORMACION DOCUMENTADA <tspan font-weight="normal">(metodos)</tspan> DE MANTENER Y</tspan><tspan x="1372" y="2253">CONSERVAR</tspan></text>
<text x="9" y="2297" class="tb">Recursos económicos para cotizaciones</text>
<text x="9" y="2347" class="tb">Materiales de oficina (Hojas de papel, lápices, lapiceros, pizarra, borrador)</text>
<text x="9" y="2381" class="tb">Recursos Humanos (Procesos de apoyo, colaboradores, servicio externo)</text>
<text x="9" y="2407" class="tb">Software ERP</text>
<text x="9" y="2433" class="tb">Software Microsoft Excel</text>
<text x="9" y="2459" class="tb">Requerimientos (Repuestos, herramientas, importaciones)</text>
<text x="9" y="2485" class="tb">Computadora</text>
<text x="9" y="2511" class="tb">Impresora</text>
<text x="845" y="2297" class="tb" text-anchor="middle">ACF-MAN-002</text>
<text x="845" y="2347" class="tb" text-anchor="middle"><tspan font-weight="bold">INDICADORES</tspan> (ACF-MAN-003)</text>
<text x="844" y="2381" class="ts" textLength="127" lengthAdjust="spacingAndGlyphs">DISPONIBILIDAD</text>
<text x="848" y="2407" class="ts" textLength="191" lengthAdjust="spacingAndGlyphs" style="white-space:pre">CONFIABILIDAD  (MTBF)</text>
<text x="843" y="2433" class="ts" textLength="187" lengthAdjust="spacingAndGlyphs" style="white-space:pre">MANTENIBILIDAD  (MTTR)</text>
<text x="844" y="2459" class="ts" textLength="329" lengthAdjust="spacingAndGlyphs">INDICE DE FRECUENCIA DE ACCIDENTES</text>
<text x="844" y="2485" class="ts" textLength="273" lengthAdjust="spacingAndGlyphs">COSTO DE MANTENIMIENTO TOTAL</text>
<text x="844" y="2511" class="ts" textLength="330" lengthAdjust="spacingAndGlyphs">COSTO DE MANTENIMIENTO POR EQUIPO</text>
<text x="843" y="2537" class="ts" textLength="267" lengthAdjust="spacingAndGlyphs">% de mantenimiento preventivo</text>
<text x="842" y="2562" class="ts" textLength="265" lengthAdjust="spacingAndGlyphs">% de mantenimiento correctivo</text>
<text x="844" y="2588" class="ts" textLength="316" lengthAdjust="spacingAndGlyphs">% Tiempo de respuesta de cada mtto.</text>
<text x="1071" y="2297" class="tb">ISO 9001:2015 Sistema de Gestión de la Calidad - Requisitos</text>
<text class="tb"><tspan x="1071" y="2335">ISO 10013:2001 Directrices para la documentación de Sistemas de Gestión de la</tspan><tspan x="1071" y="2357">Calidad</tspan></text>
<text x="1071" y="2382" class="tb">ACP-MAN-001 (Mantenimiento Preventivo-Correctivo)</text>
<text x="1071" y="2408" class="tb">ACF-MAN-004 (Plan semanal)</text>
<text x="1071" y="2433" class="tb">ACF-MAN-001 (Reporte personal de mantenimiento)</text>
<text x="1071" y="2460" class="tb">Etiqueta Amarilla</text>
<text x="1071" y="2486" class="tb">Etiqueta Roja</text>
<text x="1071" y="2512" class="tb">Layouts Planta Clinker</text>
<text x="1071" y="2537" class="tb">Lista de activos físicos</text>
<text x="1071" y="2563" class="tb">Fichas Técnicas</text>
<text x="1071" y="2588" class="tb">Lista de repuestos</text>
<text x="1071" y="2613" class="tb">Lista de Motores</text>
</g>
</svg>
